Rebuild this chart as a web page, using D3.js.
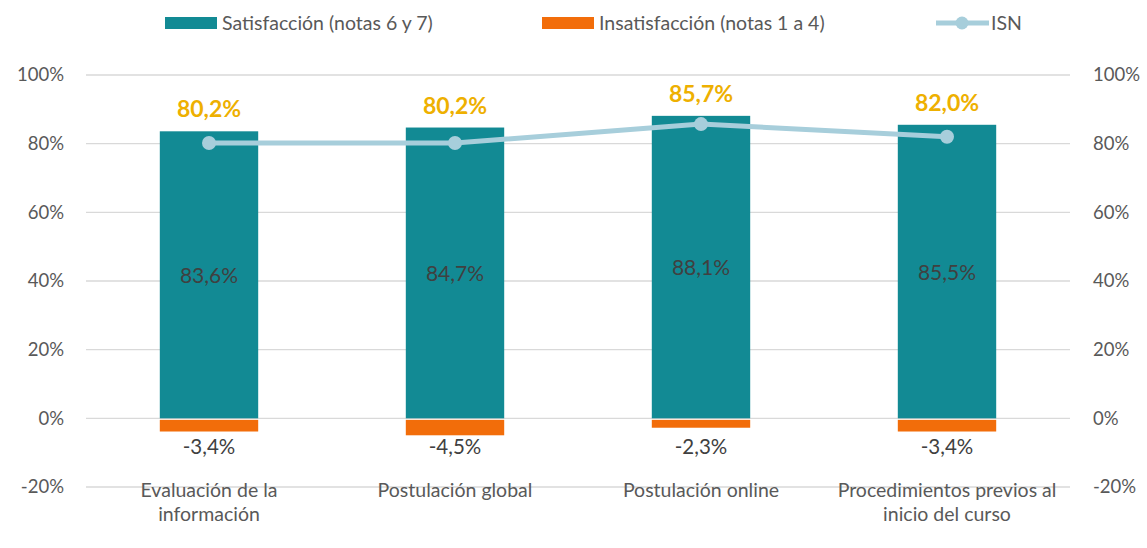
<!DOCTYPE html>
<html><head><meta charset="utf-8">
<script src="https://cdn.jsdelivr.net/npm/d3@7"></script>
<style>body{margin:0;background:#fff}svg{display:block;font-family:Lato,"Open Sans",sans-serif}</style>
</head><body><svg id="c" width="1147" height="548"></svg>
<script>
const categories = [["Evaluación de la","información"],["Postulación global"],["Postulación online"],["Procedimientos previos al","inicio del curso"]];
const satisfaccion = [83.6, 84.7, 88.1, 85.5];
const insatisfaccion = [-3.4, -4.5, -2.3, -3.4];
const isn = [80.2, 80.2, 85.7, 82.0];
const yTicks = [-20, 0, 20, 40, 60, 80, 100];
const legendLabels = ["Satisfacción (notas 6 y 7)", "Insatisfacción (notas 1 a 4)", "ISN"];

const svg = d3.select("#c");
const teal = "#128A94", orange = "#F26D0A", isnCol = "#A7CEDB", gold = "#EEB000", txt = "#595959";
const x = d3.scaleBand().domain(d3.range(categories.length)).range([86, 1070]).paddingInner(0.6).paddingOuter(0.3);
const y = d3.scaleLinear().domain([-20, 100]).range([487, 75]);
const fmt = v => d3.format(".1f")(v).replace(".", ",").replace("\u2212", "-") + "%";

// grid
svg.append("g").selectAll("line").data(yTicks).join("line")
  .attr("x1", 86).attr("x2", 1070).attr("y1", d => y(d)).attr("y2", d => y(d))
  .attr("stroke", "#D9D9D9").attr("stroke-width", 1.3);

// axes
const la = svg.append("g").attr("transform", "translate(64,0)")
  .call(d3.axisLeft(y).tickValues(yTicks).tickFormat(d => d + "%").tickSize(0).tickPadding(0));
const ra = svg.append("g").attr("transform", "translate(1093,0)")
  .call(d3.axisRight(y).tickValues(yTicks).tickFormat(d => d + "%").tickSize(0).tickPadding(0));
[la, ra].forEach(a => { a.select(".domain").remove(); a.selectAll("text").attr("fill", txt).style("font-size", "18.5px").style("font-family", "Lato,'Open Sans',sans-serif"); });

// bars
svg.append("g").selectAll("rect").data(satisfaccion).join("rect")
  .attr("x", (d, i) => x(i)).attr("width", x.bandwidth())
  .attr("y", d => y(d)).attr("height", d => y(0) - y(d)).attr("fill", teal);
svg.append("g").selectAll("rect").data(insatisfaccion).join("rect")
  .attr("x", (d, i) => x(i)).attr("width", x.bandwidth())
  .attr("y", y(0) + 1.5).attr("height", d => y(d) - y(0)).attr("fill", orange);

// bar labels
svg.append("g").selectAll("text").data(satisfaccion).join("text")
  .attr("x", (d, i) => x(i) + x.bandwidth() / 2).attr("y", d => (y(d) + y(0)) / 2 + 8)
  .attr("text-anchor", "middle").attr("fill", "#404040").style("font-size", "21px").text(fmt);
svg.append("g").selectAll("text").data(insatisfaccion).join("text")
  .attr("x", (d, i) => x(i) + x.bandwidth() / 2).attr("y", 454)
  .attr("text-anchor", "middle").attr("fill", "#404040").style("font-size", "20.5px").text(fmt);

// ISN line
const cx = i => x(i) + x.bandwidth() / 2;
svg.append("path").datum(isn)
  .attr("d", d3.line().x((d, i) => cx(i)).y(d => y(d)))
  .attr("fill", "none").attr("stroke", isnCol).attr("stroke-width", 5);
svg.append("g").selectAll("circle").data(isn).join("circle")
  .attr("cx", (d, i) => cx(i)).attr("cy", d => y(d)).attr("r", 7).attr("fill", isnCol);
svg.append("g").selectAll("text").data(isn).join("text")
  .attr("x", (d, i) => cx(i)).attr("y", (d, i) => y(satisfaccion[i]) - 14)
  .attr("text-anchor", "middle").attr("fill", gold).style("font-size", "23px").style("font-weight", "bold").text(fmt);

// category labels
const cl = svg.append("g").selectAll("text").data(categories).join("text")
  .attr("x", (d, i) => cx(i)).attr("y", 497).attr("text-anchor", "middle")
  .attr("fill", txt).style("font-size", "19.5px");
cl.selectAll("tspan").data(d => d).join("tspan")
  .attr("x", function () { return d3.select(this.parentNode).attr("x"); })
  .attr("dy", (d, i) => i === 0 ? 0 : 24).text(d => d);

// legend
const lg = svg.append("g");
const legX = [165, 542, 936];
lg.append("rect").attr("x", legX[0]).attr("y", 17).attr("width", 52).attr("height", 12).attr("fill", teal);
lg.append("rect").attr("x", legX[1]).attr("y", 17).attr("width", 52).attr("height", 12).attr("fill", orange);
lg.append("line").attr("x1", legX[2]).attr("x2", legX[2] + 53).attr("y1", 23).attr("y2", 23).attr("stroke", isnCol).attr("stroke-width", 5);
lg.append("circle").attr("cx", legX[2] + 26).attr("cy", 23).attr("r", 6.5).attr("fill", isnCol);
lg.selectAll("text").data(legendLabels).join("text")
  .attr("x", (d, i) => legX[i] + (i === 2 ? 55 : 57)).attr("y", 30)
  .attr("fill", txt).style("font-size", "19.5px").text(d => d);
</script></body></html>
